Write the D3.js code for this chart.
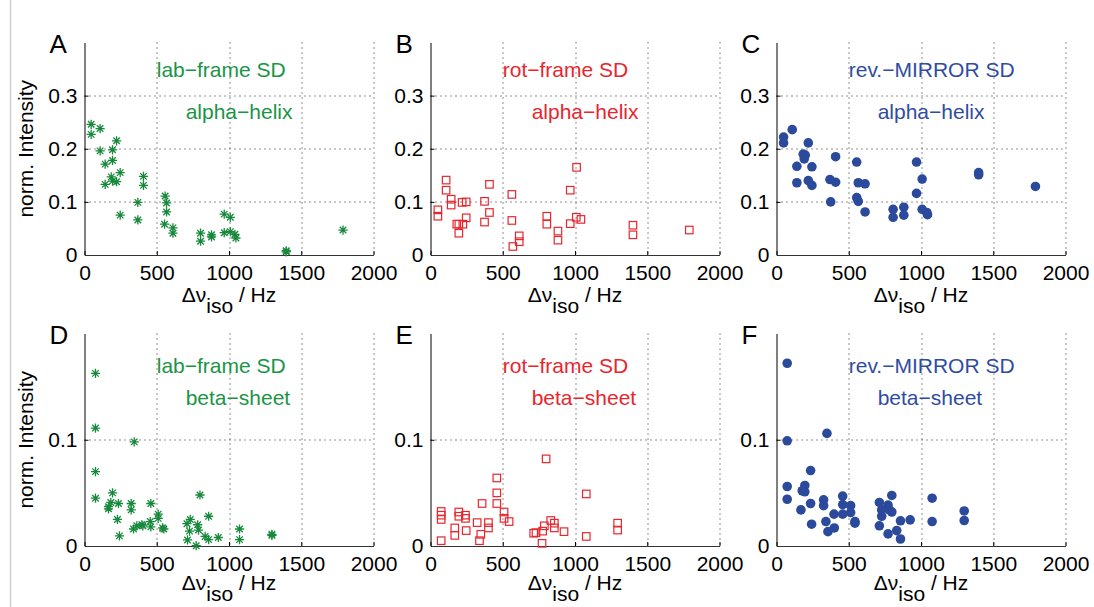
<!DOCTYPE html>
<html>
<head>
<meta charset="utf-8">
<script src="https://cdn.jsdelivr.net/npm/d3@7"></script>
<style>
  body { margin: 0; background: #fff; }
  svg text { font-family: "Liberation Sans", Arial, Helvetica, sans-serif; }
</style>
</head>
<body>
<svg id="fig" width="1094" height="607"></svg>
<script>
// data: [delta nu_iso (Hz), normalised intensity]
var labHelix = [[46,0.246],[46,0.227],[108,0.238],[108,0.196],[194,0.198],[222,0.215],[143,0.171],[194,0.178],
  [185,0.147],[143,0.133],[194,0.139],[222,0.138],[247,0.155],[408,0.148],[408,0.131],[247,0.075],[369,0.099],
  [369,0.066],[558,0.111],[568,0.098],[568,0.081],[554,0.058],[612,0.051],[612,0.041],[803,0.041],[803,0.026],
  [879,0.038],[879,0.034],[967,0.077],[1009,0.071],[967,0.042],[1009,0.044],[1041,0.039],[1048,0.032],
  [1396,0.008],[1396,0.006],[1789,0.047]];
var rotHelix = [[51,0.085],[51,0.073],[108,0.141],[108,0.122],[143,0.105],[143,0.094],[182,0.058],[196,0.041],
  [196,0.058],[224,0.058],[219,0.099],[247,0.100],[247,0.070],[374,0.101],[374,0.062],[408,0.133],[408,0.080],
  [563,0.114],[563,0.065],[570,0.016],[614,0.036],[614,0.025],[805,0.073],[805,0.058],[882,0.045],[882,0.028],
  [967,0.122],[967,0.059],[1011,0.165],[1009,0.071],[1041,0.067],[1401,0.056],[1401,0.038],[1791,0.047]];
var mirrorHelix = [[49,0.222],[49,0.211],[109,0.236],[141,0.167],[141,0.136],[185,0.190],[192,0.181],[199,0.188],
  [220,0.211],[245,0.166],[220,0.140],[245,0.131],[370,0.142],[409,0.185],[409,0.137],[375,0.100],[555,0.175],
  [566,0.136],[613,0.134],[555,0.108],[566,0.101],[613,0.081],[807,0.086],[807,0.071],[881,0.090],[881,0.075],
  [969,0.175],[969,0.116],[1008,0.143],[1008,0.086],[1040,0.080],[1045,0.076],[1399,0.155],[1399,0.151],
  [1792,0.129]];
var labSheet = [[76,0.1625],[76,0.111],[76,0.070],[76,0.045],[194,0.050],[182,0.041],[166,0.037],[166,0.035],
  [235,0.040],[228,0.025],[242,0.0095],[323,0.040],[323,0.034],[344,0.098],[339,0.016],[362,0.019],[397,0.020],
  [404,0.019],[455,0.023],[459,0.018],[459,0.040],[510,0.030],[510,0.026],[540,0.017],[549,0.016],[709,0.021],
  [732,0.025],[713,0.0057],[727,0.014],[773,0.0003],[783,0.020],[789,0.015],[799,0.048],[835,0.009],[859,0.028],
  [859,0.006],[926,0.008],[1073,0.016],[1073,0.006],[1297,0.011],[1297,0.010]];
var rotSheet = [[74,0.0325],[74,0.029],[74,0.025],[74,0.005],[168,0.017],[168,0.010],[196,0.032],[196,0.028],
  [242,0.029],[242,0.026],[247,0.0145],[323,0.022],[339,0.005],[348,0.011],[357,0.040],[401,0.022],[401,0.017],
  [459,0.064],[459,0.050],[459,0.040],[509,0.032],[509,0.026],[544,0.023],[714,0.012],[730,0.0126],[772,0.0025],
  [776,0.014],[788,0.019],[800,0.082],[832,0.024],[857,0.0215],[857,0.017],[924,0.0135],[1078,0.049],[1078,0.009],
  [1295,0.0215],[1295,0.015]];
var mirrorSheet = [[74,0.172],[74,0.099],[74,0.056],[74,0.044],[349,0.106],[236,0.071],[196,0.057],[178,0.052],
  [196,0.051],[169,0.034],[236,0.040],[243,0.0205],[326,0.0435],[326,0.038],[342,0.023],[356,0.0135],[398,0.030],
  [400,0.017],[458,0.047],[458,0.039],[458,0.030],[513,0.038],[513,0.0315],[543,0.023],[543,0.0215],[712,0.041],
  [728,0.034],[728,0.028],[712,0.019],[772,0.0385],[772,0.0114],[798,0.0476],[798,0.032],[781,0.034],[832,0.0145],
  [858,0.0237],[858,0.0066],[925,0.0246],[1077,0.045],[1077,0.023],[1299,0.033],[1299,0.024]];

var xTicks = [0, 500, 1000, 1500, 2000];
var helixYTicks = [0, 0.1, 0.2, 0.3];
var sheetYTicks = [0, 0.1];
var methods = ['lab\u2212frame SD', 'rot\u2212frame SD', 'rev.\u2212MIRROR SD'];
var structures = ['alpha\u2212helix', 'beta\u2212sheet'];
var letters = ['A', 'B', 'C', 'D', 'E', 'F'];

var colors = ['#17893b', '#e8262e', '#2c4a9c'];
var textColors = ['#1b9545', '#e8262e', '#2f4d9f'];

var panels = [
  {row: 0, col: 0, data: labHelix},
  {row: 0, col: 1, data: rotHelix},
  {row: 0, col: 2, data: mirrorHelix},
  {row: 1, col: 0, data: labSheet},
  {row: 1, col: 1, data: rotSheet},
  {row: 1, col: 2, data: mirrorSheet}
];

var colLeft = [84.5, 430.5, 776.5], pw = 289;
var rowTop = [42.5, 333.5], ph = 212.5;
var rowYmax = [0.4, 0.2];
var rowYTicks = [helixYTicks, sheetYTicks];
// annotation positions in data units: [x, y line 1, y line 2]
var rowNote = [[500, 0.336, 0.2565], [500, 0.163, 0.133]];
var fs = 21;

var svg = d3.select('#fig');

svg.append('line')
    .attr('x1', 10.5).attr('x2', 10.5)
    .attr('y1', 0).attr('y2', 607)
    .attr('stroke', '#cfcfcf')
    .attr('stroke-width', 1.5);

function asterisk(r) {
    var p = '';
    for (var k = 0; k < 4; k++) {
        var a = k * Math.PI / 4;
        var dx = r * Math.cos(a), dy = r * Math.sin(a);
        p += 'M' + (-dx) + ',' + (-dy) + 'L' + dx + ',' + dy;
    }
    return p;
}

panels.forEach(function(p, i) {
    var left = colLeft[p.col], top = rowTop[p.row];
    var x = d3.scaleLinear().domain([0, 2000]).range([0, pw]);
    var y = d3.scaleLinear().domain([0, rowYmax[p.row]]).range([ph, 0]);
    var yTicks = rowYTicks[p.row];

    var g = svg.append('g')
        .attr('transform', 'translate(' + left + ',' + top + ')');

    // dotted grid
    g.selectAll('.vgrid')
        .data(xTicks.filter(function(d) { return d > 0; }))
        .enter().append('line')
        .attr('class', 'vgrid')
        .attr('x1', function(d) { return Math.round(x(d)) + 0.5; })
        .attr('x2', function(d) { return Math.round(x(d)) + 0.5; })
        .attr('y1', 0).attr('y2', ph)
        .attr('stroke', '#222')
        .attr('stroke-width', 1)
        .attr('stroke-dasharray', '1,4');

    g.selectAll('.hgrid')
        .data(yTicks.filter(function(d) { return d > 0; }))
        .enter().append('line')
        .attr('class', 'hgrid')
        .attr('x1', 0).attr('x2', pw)
        .attr('y1', function(d) { return Math.round(y(d)) + 0.5; })
        .attr('y2', function(d) { return Math.round(y(d)) + 0.5; })
        .attr('stroke', '#222')
        .attr('stroke-width', 1)
        .attr('stroke-dasharray', '1,4');

    // axes with inward ticks
    var xAxis = d3.axisBottom(x).tickValues(xTicks).tickFormat(d3.format('d'))
        .tickSizeInner(-4).tickSizeOuter(0).tickPadding(10);
    var gx = g.append('g')
        .attr('transform', 'translate(0,' + ph + ')')
        .call(xAxis);
    gx.selectAll('text')
        .attr('font-size', fs)
        .attr('fill', '#000')
        .attr('font-family', '"Liberation Sans", Arial, sans-serif');
    gx.select('.domain').attr('stroke', '#333');

    var yAxis = d3.axisLeft(y).tickValues(yTicks).tickFormat(d3.format('.1~f'))
        .tickSizeInner(-4).tickSizeOuter(0).tickPadding(7);
    var gy = g.append('g').call(yAxis);
    gy.selectAll('text')
        .attr('font-size', fs)
        .attr('fill', '#000')
        .attr('font-family', '"Liberation Sans", Arial, sans-serif');
    gy.select('.domain').attr('stroke', '#000');
    gy.selectAll('.tick').filter(function(d) { return d === 0; }).select('line').remove();

    // x label with subscript
    var xl = g.append('text')
        .attr('x', pw / 2)
        .attr('y', ph + (p.row === 0 ? 47 : 44))
        .attr('text-anchor', 'middle')
        .attr('font-size', fs);
    xl.append('tspan').text('\u0394\u03bd');
    xl.append('tspan').attr('dy', 11).text('iso');
    xl.append('tspan').attr('dy', -11).text(' / Hz');

    if (p.col === 0) {
        g.append('text')
            .text('norm. Intensity')
            .attr('font-size', fs)
            .attr('text-anchor', 'middle')
            .attr('transform', 'translate(' + (33 - left) + ',' + ph / 2 + ')rotate(-90)');
    }

    g.append('text')
        .text(letters[i])
        .attr('x', -35)
        .attr('y', 10.5)
        .attr('font-size', 26);

    var note = rowNote[p.row];
    g.append('text')
        .text(methods[p.col])
        .attr('x', x(note[0]))
        .attr('y', y(note[1]))
        .attr('font-size', fs)
        .attr('fill', textColors[p.col]);
    g.append('text')
        .text(structures[p.row])
        .attr('x', x(700))
        .attr('y', y(note[2]))
        .attr('font-size', fs)
        .attr('fill', textColors[p.col]);

    // markers
    var c = colors[p.col];
    var marks = g.append('g').selectAll('empty')
        .data(p.data)
        .enter();
    if (p.col === 0) {
        marks.append('path')
            .attr('d', asterisk(4.6))
            .attr('transform', function(d) { return 'translate(' + x(d[0]) + ',' + y(d[1]) + ')'; })
            .attr('stroke', c)
            .attr('stroke-width', 1.3)
            .attr('fill', 'none');
    } else if (p.col === 1) {
        marks.append('rect')
            .attr('x', function(d) { return x(d[0]) - 3.75; })
            .attr('y', function(d) { return y(d[1]) - 3.75; })
            .attr('width', 7.5)
            .attr('height', 7.5)
            .attr('stroke', c)
            .attr('stroke-width', 1.2)
            .attr('fill', 'none');
    } else {
        marks.append('circle')
            .attr('cx', function(d) { return x(d[0]); })
            .attr('cy', function(d) { return y(d[1]); })
            .attr('r', 4.8)
            .attr('fill', c);
    }
});
</script>
</body>
</html>
